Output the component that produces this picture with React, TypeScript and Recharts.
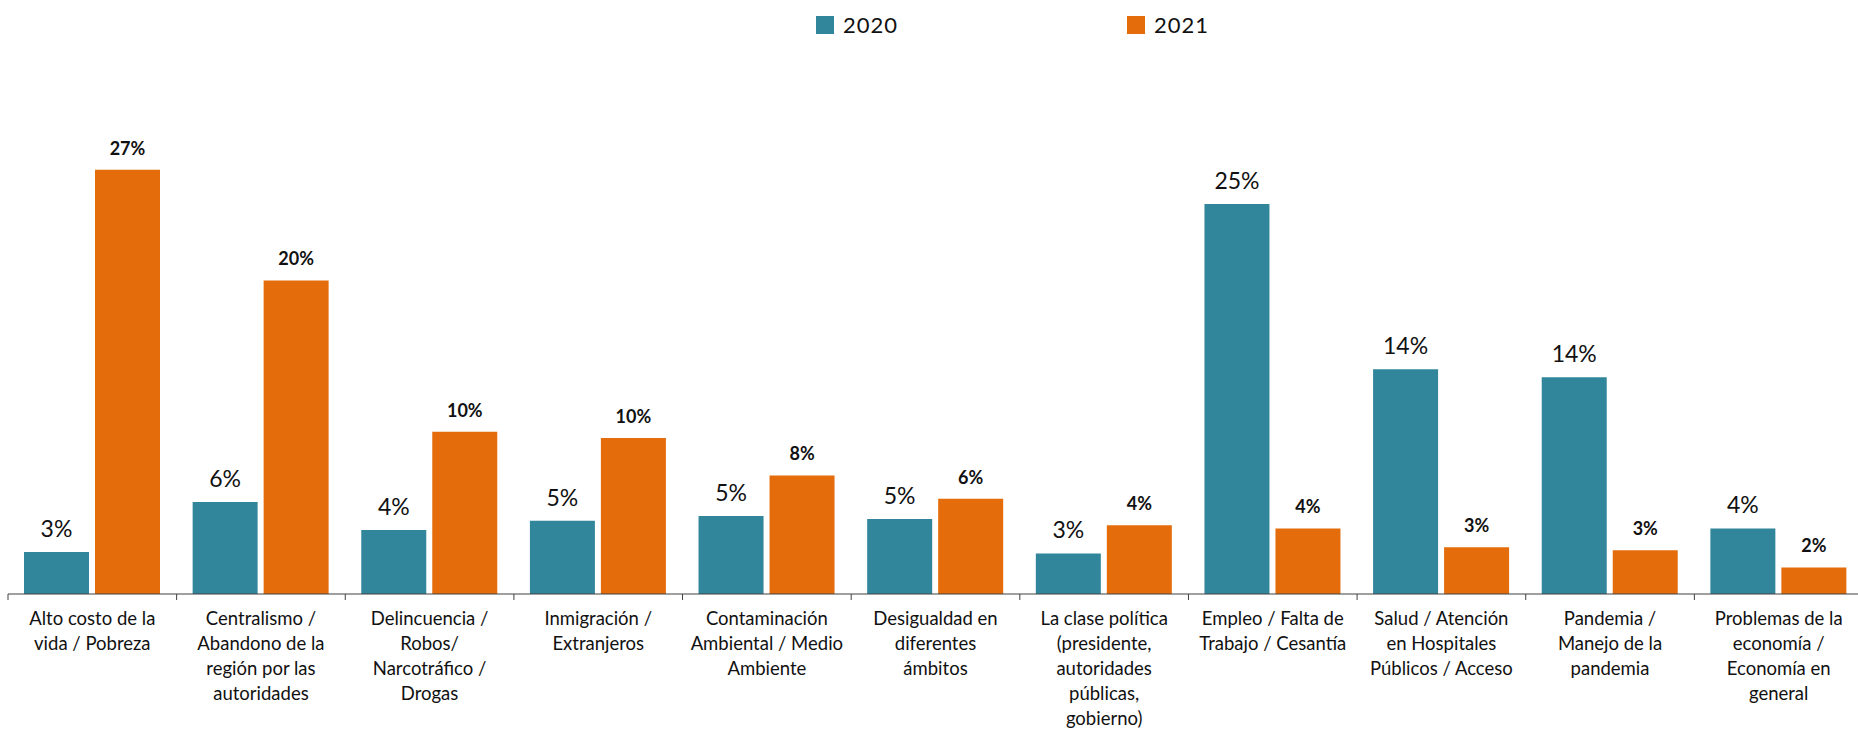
import React from "react";
import { BarChart, Bar, XAxis, YAxis, LabelList, Legend } from "recharts";

const categories = [
  "Alto costo de la\nvida / Pobreza",
  "Centralismo /\nAbandono de la\nregión por las\nautoridades",
  "Delincuencia /\nRobos/\nNarcotráfico /\nDrogas",
  "Inmigración /\nExtranjeros",
  "Contaminación\nAmbiental / Medio\nAmbiente",
  "Desigualdad en\ndiferentes\námbitos",
  "La clase política\n(presidente,\nautoridades\npúblicas,\ngobierno)",
  "Empleo / Falta de\nTrabajo / Cesantía",
  "Salud / Atención\nen Hospitales\nPúblicos / Acceso",
  "Pandemia /\nManejo de la\npandemia",
  "Problemas de la\neconomía /\nEconomía en\ngeneral",
];

const values2020 = [2.7, 5.9, 4.1, 4.7, 5.0, 4.8, 2.6, 25.0, 14.4, 13.9, 4.2];
const values2021 = [27.2, 20.1, 10.4, 10.0, 7.6, 6.1, 4.4, 4.2, 3.0, 2.8, 1.7];

const seriesNames = ["2020", "2021"];
const seriesColors = ["#31869B", "#E46C0A"];

const data = categories.map((name, i) => ({
  name,
  y2020: values2020[i],
  y2021: values2021[i],
}));

const FONT = "Lato, 'Open Sans', sans-serif";
const AXIS = "#404040";

// category label plus a tick mark at the left edge of each band (and right edge of the last)
const CategoryTick = ({ x, y, payload, index, visibleTicksCount }: any) => {
  const lines = String(payload.value).split("\n");
  const half = payload.offset || 0;
  const axisY = y - 8;
  return (
    <g>
      <line x1={x - half} x2={x - half} y1={axisY} y2={axisY + 6} stroke={AXIS} />
      {index === visibleTicksCount - 1 && (
        <line x1={x + half} x2={x + half} y1={axisY} y2={axisY + 6} stroke={AXIS} />
      )}
      <text x={x} y={y} textAnchor="middle" fill="#111" fontSize={18.5} fontFamily={FONT}>
        {lines.map((line, i) => (
          <tspan key={i} x={x} dy={i === 0 ? 23 : 25}>
            {line}
          </tspan>
        ))}
      </text>
    </g>
  );
};

const LegendContent = ({ payload }: any) => (
  <div style={{ display: "flex", fontFamily: FONT }}>
    {(payload || []).map((item: any) => (
      <div key={item.value} style={{ display: "flex", alignItems: "center", width: 311 }}>
        <span style={{ width: 18, height: 18, background: item.color, display: "inline-block" }} />
        <span style={{ marginLeft: 9, fontSize: 22, color: "#111", letterSpacing: 1 }}>{item.value}</span>
      </div>
    ))}
  </div>
);

const pct = (v: any) => `${Math.round(Number(v))}%`;

export default function App() {
  return (
    <div style={{ position: "absolute", left: 0, top: 0, width: 1858, height: 738, overflow: "hidden", background: "#fff" }}>
      <BarChart
        width={1866}
        height={738}
        data={data}
        margin={{ top: 126, right: 3, left: 8, bottom: 0 }}
        barCategoryGap={16}
        barGap={6}
      >
        <XAxis
          dataKey="name"
          height={144}
          axisLine={{ stroke: AXIS }}
          tickLine={false}
          interval={0}
          tick={<CategoryTick />}
        />
        <YAxis hide domain={[0, 30]} />
        <Legend
          layout="horizontal"
          verticalAlign="middle"
          content={<LegendContent />}
          wrapperStyle={{ top: 11, left: 816, width: 700, height: 22 }}
        />
        <Bar dataKey="y2020" name={seriesNames[0]} fill={seriesColors[0]} isAnimationActive={false}>
          <LabelList
            dataKey="y2020"
            position="top"
            offset={15}
            formatter={pct}
            fill="#111"
            fontSize={23}
            fontFamily={FONT}
          />
        </Bar>
        <Bar dataKey="y2021" name={seriesNames[1]} fill={seriesColors[1]} isAnimationActive={false}>
          <LabelList
            dataKey="y2021"
            position="top"
            offset={15}
            formatter={pct}
            fill="#111"
            fontSize={18}
            fontWeight="bold"
            fontFamily={FONT}
          />
        </Bar>
      </BarChart>
    </div>
  );
}
